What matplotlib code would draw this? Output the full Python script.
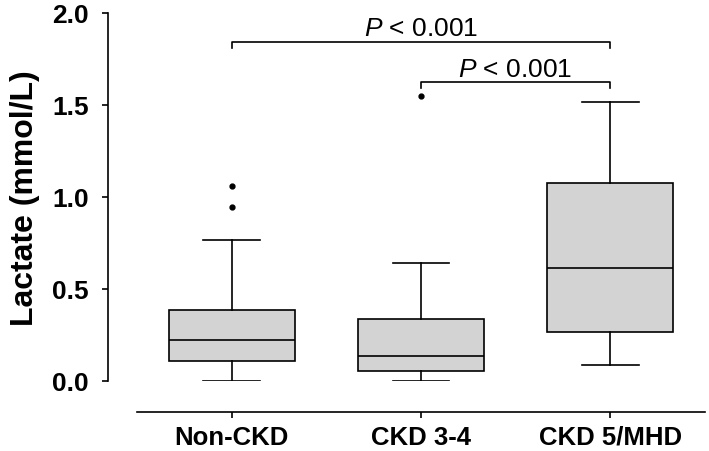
import matplotlib
matplotlib.use('Agg')
import matplotlib.pyplot as plt

plt.rcParams['font.family'] = 'Liberation Sans'
plt.rcParams['mathtext.fontset'] = 'custom'
plt.rcParams['mathtext.it'] = 'Liberation Sans:italic'
plt.rcParams['mathtext.rm'] = 'Liberation Sans'

groups = ['Non-CKD', 'CKD 3-4', 'CKD 5/MHD']
whislo = [0.0, 0.0, 0.087]
q1 = [0.110, 0.053, 0.268]
med = [0.223, 0.136, 0.612]
q3 = [0.388, 0.335, 1.074]
whishi = [0.766, 0.640, 1.518]
fliers = [[0.944, 1.058], [1.547], []]
yticks = [0.0, 0.5, 1.0, 1.5, 2.0]

# significance brackets: (group a, group b, height, label)
comparisons = [(1, 3, 1.845, '$\\mathit{P}$ < 0.001'),
               (2, 3, 1.623, '$\\mathit{P}$ < 0.001')]

stats = []
for i in range(len(groups)):
    stats.append({'label': groups[i], 'whislo': whislo[i], 'q1': q1[i], 'med': med[i],
                  'q3': q3[i], 'whishi': whishi[i], 'fliers': fliers[i]})

fig = plt.figure(figsize=(7.09, 4.52), dpi=100)
ax = fig.add_axes([137/709, 70/452, 568/709, 368/452])

lw = 1.2
ax.bxp(stats, positions=[1, 2, 3], widths=0.667, patch_artist=True, showfliers=True,
       boxprops=dict(facecolor='#d3d3d3', edgecolor='black', linewidth=lw),
       medianprops=dict(color='black', linewidth=lw),
       whiskerprops=dict(color='black', linewidth=lw),
       capprops=dict(color='black', linewidth=lw),
       capwidths=0.3,
       flierprops=dict(marker='o', markerfacecolor='black', markeredgecolor='black', markersize=3.5))

for a, b, h, lab in comparisons:
    d = 0.033
    ax.plot([a, a, b, b], [h - d, h, h, h - d], color='black', linewidth=lw, clip_on=False)
    ax.text((a + b) / 2, h + 0.035, lab, ha='center', va='baseline', fontsize=19)

ax.spines['top'].set_visible(False)
ax.spines['right'].set_visible(False)
ax.spines['left'].set_position(('outward', 21))
ax.spines['bottom'].set_position(('outward', 22))
ax.spines['left'].set_linewidth(lw)
ax.spines['bottom'].set_linewidth(lw)
ax.tick_params(axis='both', direction='out', length=4.5, width=lw, color='black', labelsize=19)
ax.tick_params(axis='y', pad=9)
ax.tick_params(axis='x', pad=5)

ax.set_xlim(0.5, 3.5)
ax.set_ylim(0, 2.0)
ax.set_yticks(yticks)
ax.set_yticklabels(['%.1f' % v for v in yticks])
ax.set_xticks([1, 2, 3])
ax.set_xticklabels(groups)
for lab in ax.get_xticklabels():
    lab.set_fontweight('bold')
    lab.set_fontsize(18.5)
for lab in ax.get_yticklabels():
    lab.set_fontweight('bold')
    lab.set_fontsize(19)
ax.set_ylabel('Lactate (mmol/L)', fontsize=23, fontweight='bold', labelpad=9)

plt.savefig('out.png', dpi=100)
